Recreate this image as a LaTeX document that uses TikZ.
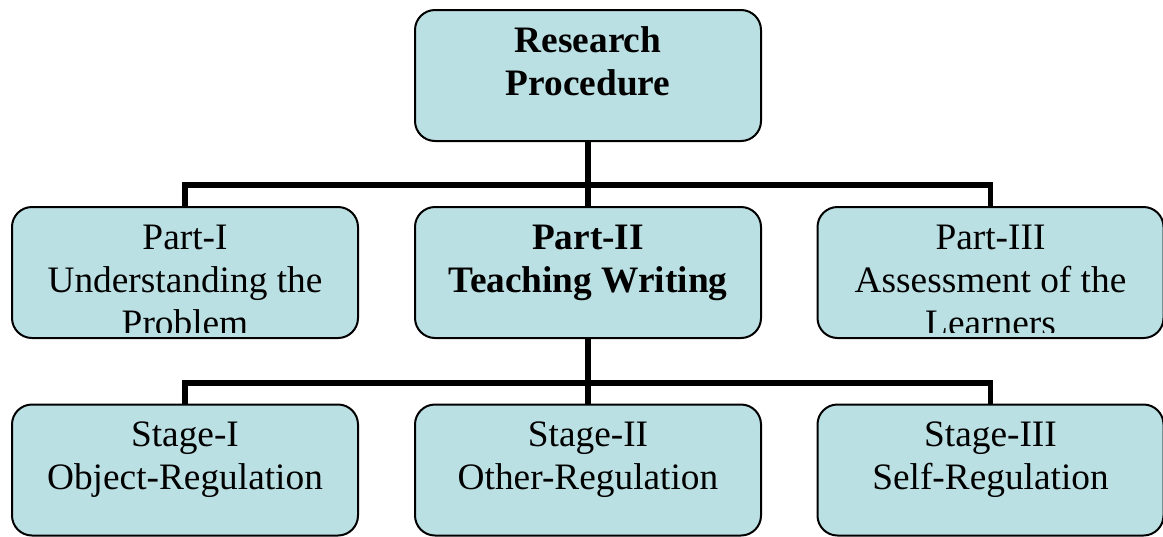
\documentclass[tikz,border=0pt]{standalone}
\usepackage{fontspec}
\setmainfont{Liberation Serif}
\definecolor{boxblue}{RGB}{187,224,227}

\begin{document}
\begin{tikzpicture}[x=0.75pt, y=-0.75pt,
    proctext/.style={draw=none, fill=none, anchor=base, minimum size=0pt, inner sep=0pt,
        text width=240pt, align=flush center, font=\fontsize{28}{32.25}\selectfont},
    procbox/.style={draw, line width=1.5pt, fill=boxblue, rounded corners=15pt,
        minimum width=259.5pt, minimum height=98.25pt, inner sep=0pt,
        path picture={
            \clip ([yshift=4.5pt]path picture bounding box.south west)
                rectangle (path picture bounding box.north east);
            \node[proctext] at ([yshift=-31.5pt]path picture bounding box.north) {#1};}},
    branch/.style={line width=4pt}]
    \useasboundingbox (0,0) rectangle (1163,536);

    % Top level
    \node[procbox={\bfseries Research\\Procedure}] (proc) at (588,75.5) {};

    % Parts
    \node[procbox={Part-I\\Understanding the\\Problem}] (partI) at (185,272.5) {};
    \node[procbox={\bfseries Part-II\\Teaching Writing}] (partII) at (588,272.5) {};
    \node[procbox={Part-III\\Assessment of the\\Learners}] (partIII) at (990.5,272.5) {};

    \coordinate (hubA) at (588,185);
    \draw[branch] (proc.south) -- (hubA);
    \draw[branch] (partI.north) |- (hubA) -| (partIII.north);
    \draw[branch] (hubA) -- (partII.north);

    % Stages
    \node[procbox={Stage-I\\Object-Regulation}] (stageI) at (185,470) {};
    \node[procbox={Stage-II\\Other-Regulation}] (stageII) at (588,470) {};
    \node[procbox={Stage-III\\Self-Regulation}] (stageIII) at (990.5,470) {};

    \coordinate (hubB) at (588,383);
    \draw[branch] (partII.south) -- (hubB);
    \draw[branch] (stageI.north) |- (hubB) -| (stageIII.north);
    \draw[branch] (hubB) -- (stageII.north);
\end{tikzpicture}
\end{document}
